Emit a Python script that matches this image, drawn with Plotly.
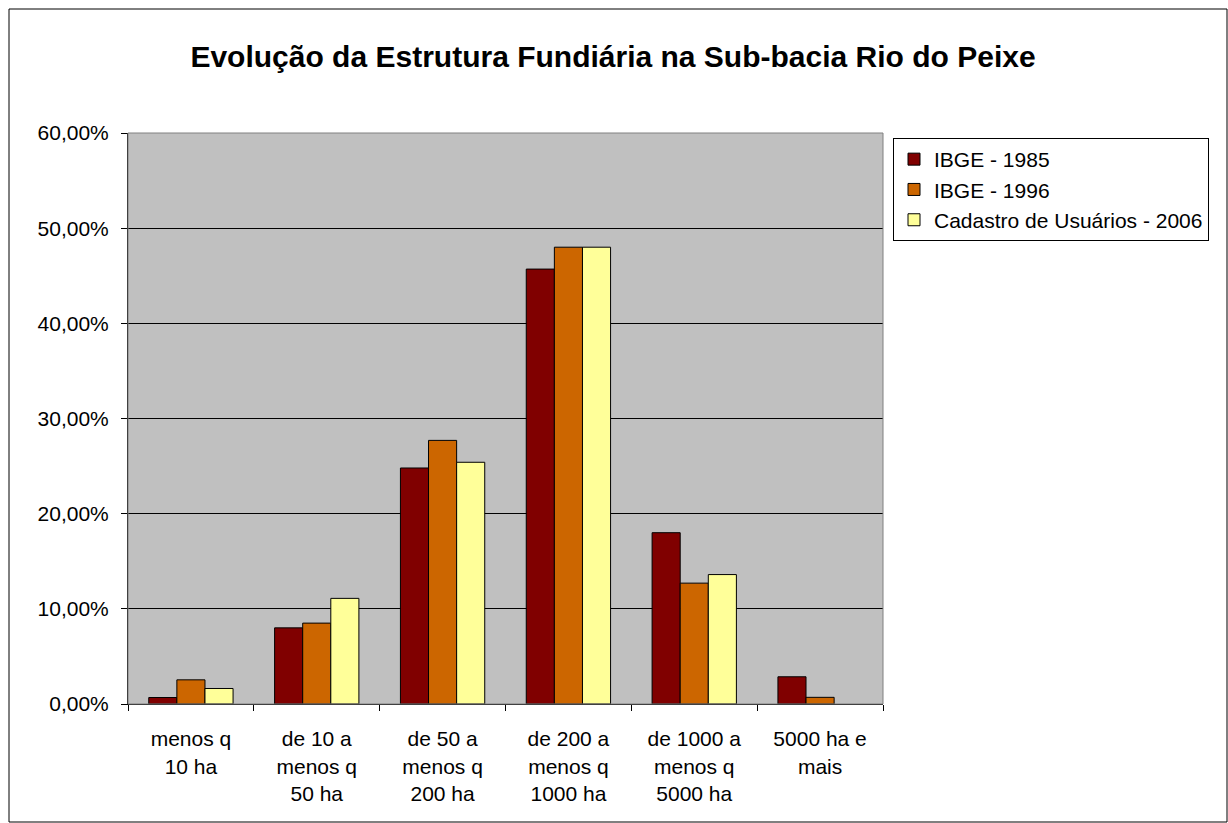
import plotly.graph_objects as go

# Land-holding size classes (x categories)
categories = [
    "menos q<br>10 ha",
    "de 10 a<br>menos q<br>50 ha",
    "de 50 a<br>menos q<br>200 ha",
    "de 200 a<br>menos q<br>1000 ha",
    "de 1000 a<br>menos q<br>5000 ha",
    "5000 ha e<br>mais",
]

# Share of properties per size class (fractions); None = no bar
ibge_1985 = [0.0068, 0.080, 0.248, 0.457, 0.180, 0.0286]
ibge_1996 = [0.0254, 0.085, 0.277, 0.480, 0.127, 0.0070]
cadastro_2006 = [0.0163, 0.111, 0.254, 0.480, 0.136, None]

series_names = ["IBGE - 1985", "IBGE - 1996", "Cadastro de Usuários - 2006"]
series_colors = ["#800000", "#CC6600", "#FFFF99"]

y_ticks = [0, 0.1, 0.2, 0.3, 0.4, 0.5, 0.6]

FONT = "Liberation Sans, Arial, sans-serif"

fig = go.Figure()
for name, vals, color in zip(series_names, [ibge_1985, ibge_1996, cadastro_2006], series_colors):
    fig.add_trace(go.Bar(
        x=categories, y=vals, name=name, legendgroup=name,
        marker=dict(color=color, line=dict(color="black", width=1)),
    ))

# plot area spans x 128..883 px, y 133..704 px
L, R, T, B = 128, 883, 133, 704
W, H = 1228, 823
pw, ph = R - L, B - T

def px_x(p):
    return (p - L) / pw

def px_y(p):
    return (B - p) / ph

fig.update_layout(
    width=W, height=H,
    margin=dict(l=L, r=W - R, t=T, b=H - B),
    paper_bgcolor="white",
    plot_bgcolor="#C0C0C0",
    separators=",.",
    barmode="group",
    bargap=0.33,
    bargroupgap=0,
    font=dict(family=FONT, size=21, color="black"),
    title=dict(
        text="<b>Evolução da Estrutura Fundiária na Sub-bacia Rio do Peixe</b>",
        x=613 / W, xanchor="center", xref="container",
        y=1 - 56 / H, yanchor="middle", yref="container",
        font=dict(family=FONT, size=30, color="black"),
    ),
    legend=dict(
        x=px_x(893), xanchor="left",
        y=px_y(138), yanchor="top",
        bgcolor="white", bordercolor="black", borderwidth=1,
        font=dict(family=FONT, size=21, color="black"),
        tracegroupgap=0,
        itemwidth=30,
    ),
    xaxis=dict(
        showline=True, linecolor="black", linewidth=1,
        ticks="outside", ticklen=6, tickcolor="black",
        tickson="boundaries", showgrid=False,
        ticklabelstandoff=16,
        tickfont=dict(family=FONT, size=21, color="black"),
    ),
    yaxis=dict(
        range=[0, 0.6], tickvals=y_ticks, tickformat=".2%",
        showline=True, linecolor="black", linewidth=1,
        ticks="outside", ticklen=6, tickcolor="black",
        showgrid=True, gridcolor="black", gridwidth=1,
        zeroline=False,
        ticklabelstandoff=8,
        tickfont=dict(family=FONT, size=21, color="black"),
    ),
    shapes=[
        # outer chart border
        dict(type="rect", xref="paper", yref="paper",
             x0=px_x(9), x1=px_x(1227), y0=px_y(822), y1=px_y(9),
             line=dict(color="black", width=1), fillcolor="rgba(0,0,0,0)",
             layer="below"),
        # plot area frame
        dict(type="rect", xref="paper", yref="paper",
             x0=0, x1=1, y0=0, y1=1,
             line=dict(color="#808080", width=1), fillcolor="rgba(0,0,0,0)"),
    ],
)

fig.write_html("out.html")
